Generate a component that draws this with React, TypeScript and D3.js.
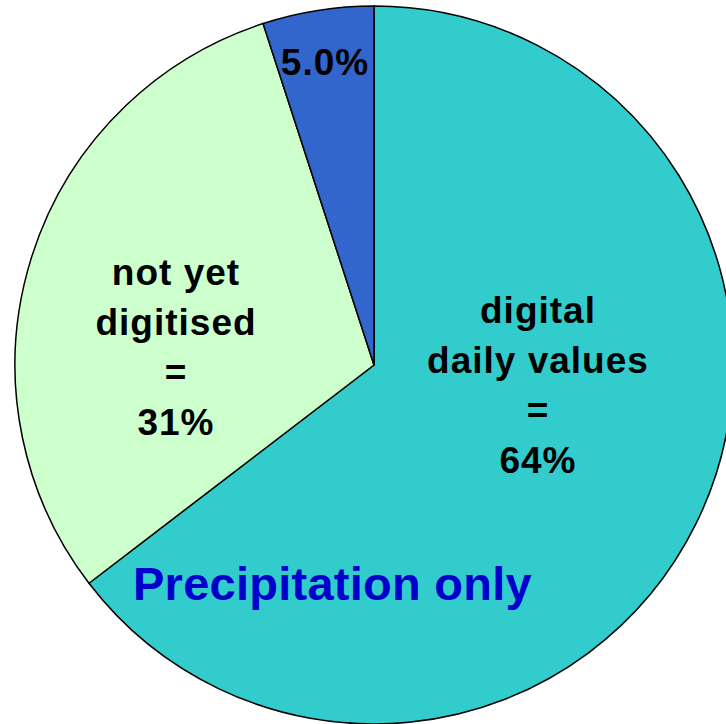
import React from "react";
import * as d3 from "d3";

const categories = ["digital daily values", "not yet digitised", "other"];
const values = [64.6, 30.4, 5.0];
const colors = ["#33CCCC", "#CCFFCC", "#3366CC"];
const labelLines = [
  ["digital", "daily values", "=", "64%"],
  ["not yet", "digitised", "=", "31%"],
  ["5.0%"],
];
const title = "Precipitation only";

const W = 726;
const H = 724;
const cx = 374;
const cy = 365;
const R = 359;

export default function App() {
  const pie = d3
    .pie<number>()
    .sort(null)
    .value((d) => d)
    .startAngle(0)
    .endAngle(2 * Math.PI);
  const arcs = pie(values);
  const arc = d3.arc<d3.PieArcDatum<number>>().innerRadius(0).outerRadius(R);

  const labelPos: [number, number][] = [
    [538, 323],
    [176, 285],
    [325, 75],
  ];
  const lineGap = 50;

  return (
    <svg
      width={W}
      height={H}
      style={{ position: "absolute", left: 0, top: 0, background: "#fff" }}
    >
      <g transform={`translate(${cx},${cy})`}>
        {arcs.map((a, i) => (
          <path
            key={categories[i]}
            d={arc(a) || ""}
            fill={colors[i]}
            stroke="#000"
            strokeWidth={1.5}
          />
        ))}
      </g>
      {labelLines.map((lines, i) => (
        <text
          key={i}
          x={labelPos[i][0]}
          y={labelPos[i][1]}
          textAnchor="middle"
          fontFamily="'Liberation Sans', Arial, sans-serif"
          fontWeight="bold"
          fontSize={37}
          letterSpacing={1}
          fill="#000"
        >
          {lines.map((l, j) => (
            <tspan key={j} x={labelPos[i][0]} y={labelPos[i][1] + j * lineGap}>
              {l}
            </tspan>
          ))}
        </text>
      ))}
      <text
        x={133}
        y={600}
        fontFamily="'Liberation Sans', Arial, sans-serif"
        fontWeight="bold"
        fontSize={47}
        letterSpacing={0.25}
        fill="#0000CC"
      >
        {title}
      </text>
    </svg>
  );
}
